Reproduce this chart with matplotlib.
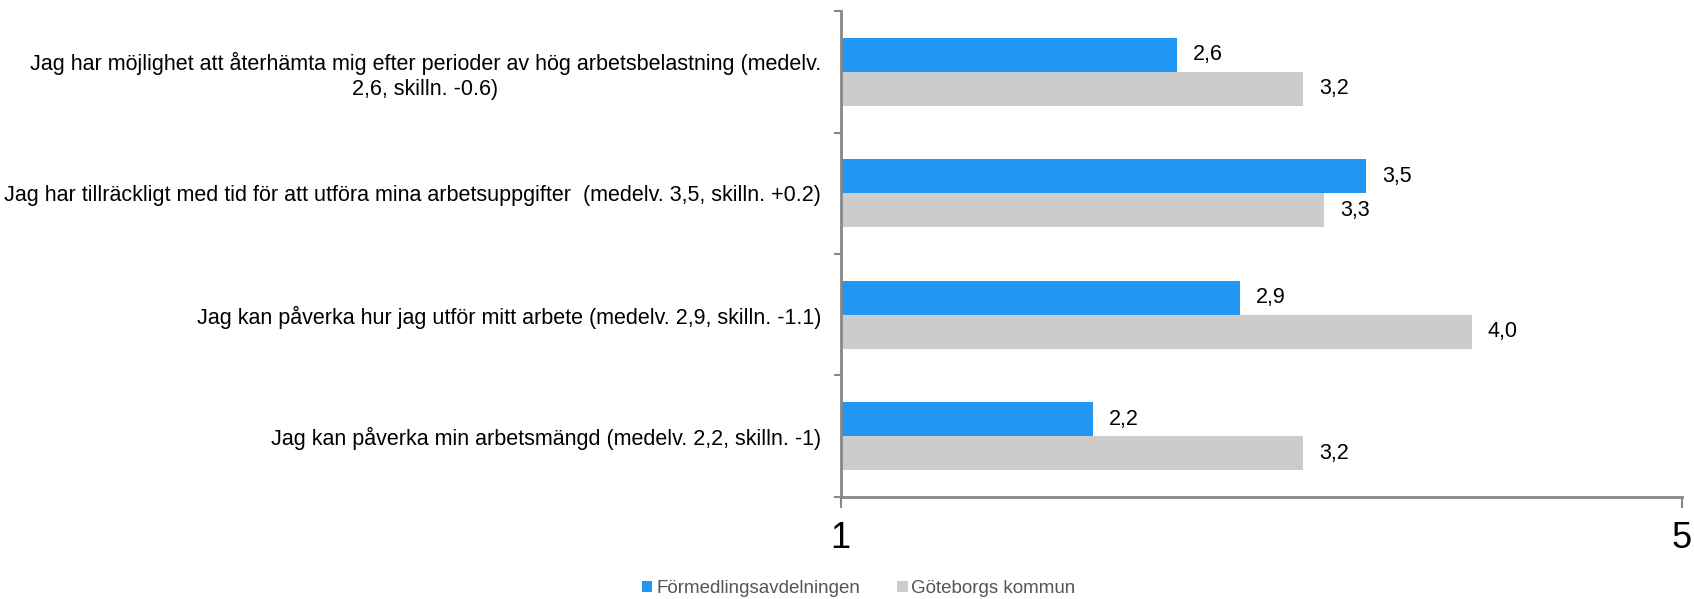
import matplotlib
matplotlib.use("Agg")
import matplotlib.pyplot as plt
from matplotlib.patches import Patch
import numpy as np

plt.rcParams['font.family'] = ['Liberation Sans', 'DejaVu Sans']

categories = [
    "Jag har möjlighet att återhämta mig efter perioder av hög arbetsbelastning (medelv.\n2,6, skilln. -0.6)",
    "Jag har tillräckligt med tid för att utföra mina arbetsuppgifter  (medelv. 3,5, skilln. +0.2)",
    "Jag kan påverka hur jag utför mitt arbete (medelv. 2,9, skilln. -1.1)",
    "Jag kan påverka min arbetsmängd (medelv. 2,2, skilln. -1)",
]
series_names = ["Förmedlingsavdelningen", "Göteborgs kommun"]
formed = [2.6, 3.5, 2.9, 2.2]
gbg = [3.2, 3.3, 4.0, 3.2]
x_ticks = [1, 5]

blue = "#2196F3"
grey = "#CCCCCC"
axis_col = "#888888"

fig = plt.figure(figsize=(16.94, 5.99), dpi=100)
ax = fig.add_axes([0.4962, 0.1703, 0.4967, 0.8113])

n = len(categories)
centers = np.arange(n)[::-1] + 0.5
h = 0.28
base = 1
ax.barh(centers + h / 2, np.array(formed) - base, left=base, height=h, color=blue)
ax.barh(centers - h / 2, np.array(gbg) - base, left=base, height=h, color=grey)

for c, v in zip(centers, formed):
    ax.text(v + 0.075, c + h / 2, f"{v:.1f}".replace(".", ","), va="center", ha="left", fontsize=15.5, color="black")
for c, v in zip(centers, gbg):
    ax.text(v + 0.075, c - h / 2, f"{v:.1f}".replace(".", ","), va="center", ha="left", fontsize=15.5, color="black")

ax.set_xlim(1, 5)
ax.set_ylim(0, n)
ax.set_xticks(x_ticks)
ax.set_xticklabels([str(t) for t in x_ticks], fontsize=26)

ax.set_yticks(np.arange(n + 1), minor=False)
ax.set_yticklabels([""] * (n + 1))
ax.set_yticks(centers, minor=True)
ax.set_yticklabels(categories, minor=True, fontsize=15.5, multialignment="center")
ax.tick_params(axis="y", which="minor", length=0, pad=14)
ax.tick_params(axis="y", which="major", length=5, width=1.5, color=axis_col, direction="out")
ax.tick_params(axis="x", length=8, width=1.5, color=axis_col, direction="out", pad=9)

for s in ["top", "right"]:
    ax.spines[s].set_visible(False)
for s in ["left", "bottom"]:
    ax.spines[s].set_color(axis_col)
    ax.spines[s].set_linewidth(2)

handles = [Patch(facecolor=blue, label=series_names[0]), Patch(facecolor=grey, label=series_names[1])]
fig.legend(handles=handles, loc="center", bbox_to_anchor=(0.507, 0.017), ncol=2, frameon=False,
           fontsize=13.5, handlelength=0.55, handleheight=0.55, handletextpad=0.2, columnspacing=2.0,
           labelcolor="#555555")

fig.savefig("out.png", dpi=100)
